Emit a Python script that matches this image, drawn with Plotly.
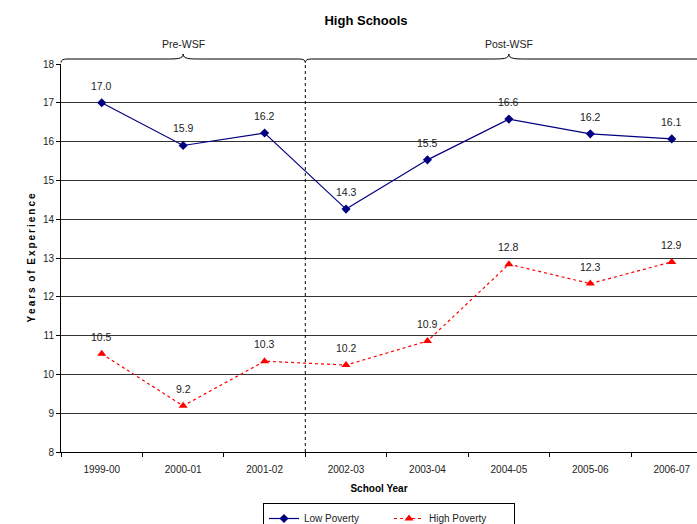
import plotly.graph_objects as go

years = ["1999-00", "2000-01", "2001-02", "2002-03", "2003-04", "2004-05", "2005-06", "2006-07"]
low_poverty = [17.0, 15.9, 16.22, 14.26, 15.53, 16.58, 16.2, 16.07]
high_poverty = [10.53, 9.19, 10.34, 10.24, 10.86, 12.84, 12.34, 12.9]
periods = ["Pre-WSF", "Post-WSF"]
period_spans = [(-0.5, 2.5), (2.5, 7.5)]
y_ticks = list(range(8, 19))

FONT = "Liberation Sans, Arial, sans-serif"
W, H = 697, 524
M_L, M_R, M_T, M_B = 61, 0, 64, 72
PLOT_H = H - M_T - M_B
X_RANGE = [-0.5, 7.31]


def x_to_paper(x):
    return (x - X_RANGE[0]) / (X_RANGE[1] - X_RANGE[0])


fig = go.Figure()
fig.add_trace(go.Scatter(
    x=years, y=low_poverty, name="Low Poverty", mode="lines+markers",
    line=dict(color="#000080", width=1.2),
    marker=dict(symbol="diamond", size=7, color="#000080"),
))
fig.add_trace(go.Scatter(
    x=years, y=high_poverty, name="High Poverty", mode="lines+markers",
    line=dict(color="#FF0000", width=1.2, dash="3px,3px"),
    marker=dict(symbol="triangle-up", size=8, color="#FF0000"),
))

annotations = []
for series in (low_poverty, high_poverty):
    for i, v in enumerate(series):
        annotations.append(dict(
            x=i, y=v, xref="x", yref="y", text=f"{v:.1f}", showarrow=False,
            yshift=17, font=dict(family=FONT, size=10.5, color="#222")))

shapes = [dict(type="line", xref="x", yref="paper", x0=2.5, x1=2.5, y0=0, y1=1,
               line=dict(color="black", width=1, dash="3px,3px"))]

# curly braces above plot (paper coordinates)
y_end = 1 + 1.5 / PLOT_H
y_line = 1 + 5 / PLOT_H
y_tip = 1 + 10 / PLOT_H
for (a, b), label in zip(period_spans, periods):
    m = (a + b) / 2
    pa, pb, pm = x_to_paper(a), x_to_paper(b), x_to_paper(m)
    d = 6 / (W - M_L - M_R)
    d2 = 18 / (W - M_L - M_R)
    path = (f"M{pa},{y_end} Q{pa},{y_line} {pa+d},{y_line} "
            f"L{pm-d2},{y_line} C{pm-d2/3},{y_line} {pm},{y_line} {pm},{y_tip} "
            f"C{pm},{y_line} {pm+d2/3},{y_line} {pm+d2},{y_line} "
            f"L{pb-d},{y_line} Q{pb},{y_line} {pb},{y_end}")
    shapes.append(dict(type="path", xref="paper", yref="paper", path=path, layer="above",
                       line=dict(color="black", width=1)))
    annotations.append(dict(x=m, y=1 + 12 / PLOT_H, xref="x", yref="paper", text=label,
                            showarrow=False, yanchor="bottom",
                            font=dict(family=FONT, size=10.5, color="#222")))

ytitle = "  ".join("\u2009".join(w) for w in "Years of Experience".split())

fig.update_layout(
    width=W, height=H,
    margin=dict(l=M_L, r=M_R, t=M_T, b=M_B, autoexpand=False),
    paper_bgcolor="white", plot_bgcolor="white",
    font=dict(family=FONT, size=10, color="#222"),
    title=dict(text="<b>High Schools</b>", x=366 / W, xanchor="center",
               y=1 - 20 / H, yanchor="middle", font=dict(size=13, color="black")),
    showlegend=True,
    legend=dict(orientation="h", x=389 / W, xanchor="center", xref="container",
                y=1 - 503 / H, yanchor="top", yref="container",
                bordercolor="black", borderwidth=1, font=dict(size=10),
                entrywidth=80, itemwidth=30, tracegroupgap=0),
    annotations=annotations, shapes=shapes,
)
fig.update_xaxes(
    type="category", range=X_RANGE, tickson="boundaries", automargin=False,
    ticks="outside", ticklen=4, tickcolor="black",
    showline=True, linecolor="black", linewidth=1, showgrid=False,
    ticklabelstandoff=8, tickfont=dict(size=10),
    title=dict(text="<b>School Year</b>", standoff=10, font=dict(size=10, color="black")),
)
fig.update_yaxes(
    range=[8, 18], tickvals=y_ticks, ticks="outside", ticklen=4, tickcolor="black",
    showline=True, linecolor="black", linewidth=1, automargin=False,
    showgrid=True, gridcolor="#333", gridwidth=1, zeroline=False,
    tickfont=dict(size=10),
    title=dict(text="<b>" + ytitle + "</b>", standoff=5,
               font=dict(size=10, color="black")),
)

fig.write_html("out.html", config={"displayModeBar": False},
               post_script="document.body.style.margin='0';")
